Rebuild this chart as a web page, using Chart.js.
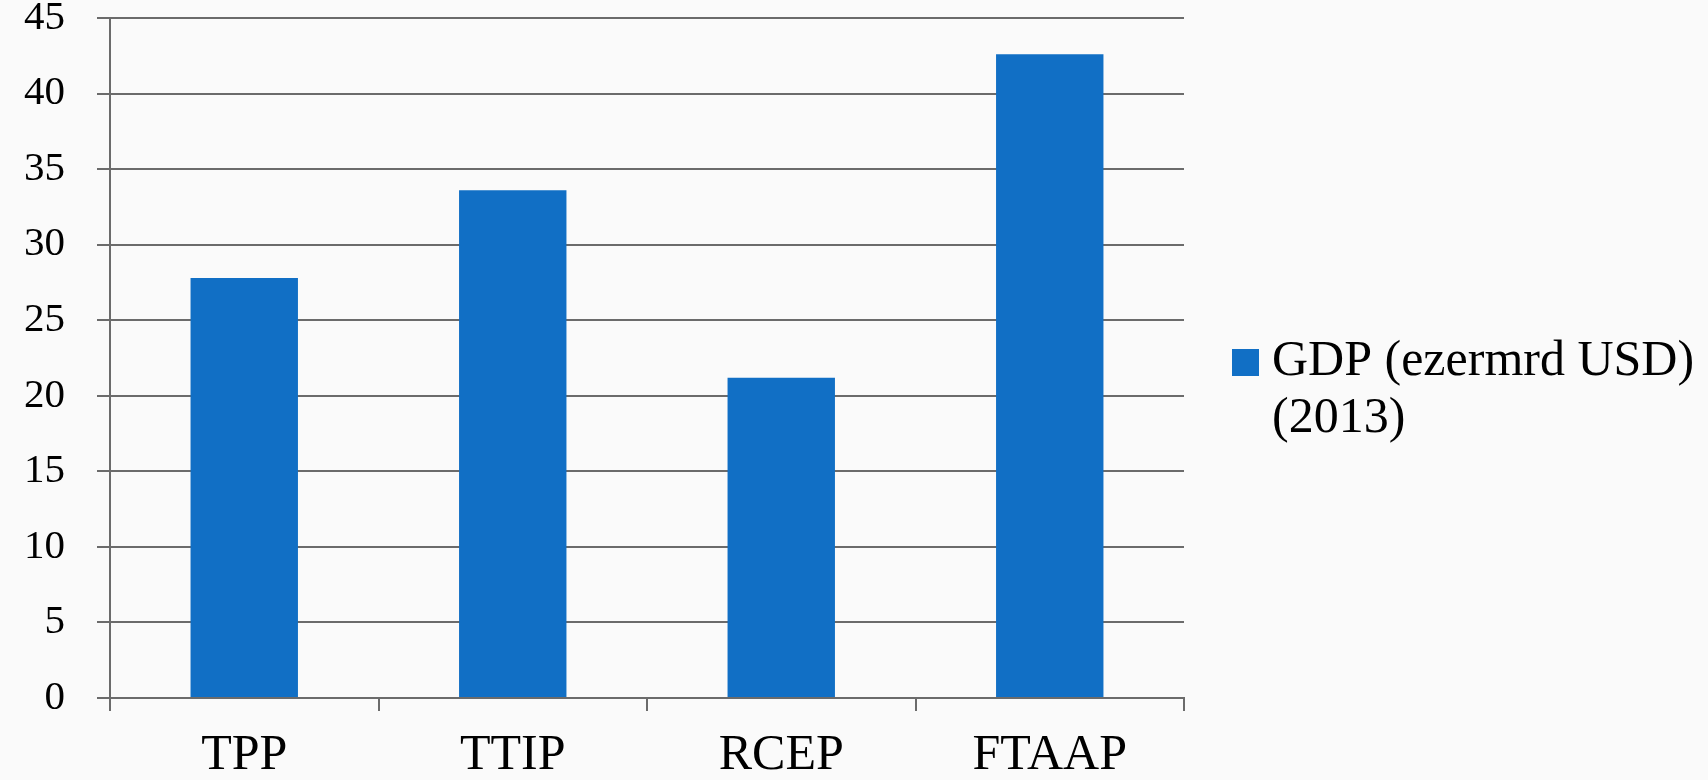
<!DOCTYPE html>
<html>
<head>
<meta charset="utf-8">
<title>GDP (2013)</title>
<script src="https://cdn.jsdelivr.net/npm/chart.js@4/dist/chart.umd.min.js"></script>
<style>
  html, body { margin: 0; padding: 0; background: #fafafa; }
  #wrap { width: 1708px; height: 780px; position: relative; }
</style>
</head>
<body>
<div id="wrap"><canvas id="gdpChart"></canvas></div>
<script>
// Adatok
const categories = ['TPP', 'TTIP', 'RCEP', 'FTAAP'];
const gdpValues = [27.8, 33.6, 21.2, 42.6];
const legendLines = ['GDP (ezermrd USD)', '(2013)'];

const BAR_COLOR = '#116fc5';
const LINE_COLOR = '#6b6b6b';
const FONT = '"Liberation Serif", "Times New Roman", serif';

// Jelmagyarázat kézzel rajzolva (két sorba törve, mint az eredetin)
const sideLegend = {
    id: 'sideLegend',
    afterDraw(chart) {
        const { ctx } = chart;
        const ds = chart.data.datasets[0];
        ctx.save();
        ctx.fillStyle = ds.backgroundColor;
        ctx.fillRect(1232, 349, 27, 27);
        ctx.fillStyle = '#000';
        ctx.font = `50px ${FONT}`;
        ctx.textBaseline = 'alphabetic';
        ctx.textAlign = 'left';
        legendLines.forEach((line, i) => {
            ctx.fillText(line, 1272, 375 + i * 57);
        });
        ctx.restore();
    }
};

const ctx = document.getElementById('gdpChart').getContext('2d');
new Chart(ctx, {
    type: 'bar',
    data: {
        labels: categories,
        datasets: [{
            label: legendLines.join(' '),
            data: gdpValues,
            backgroundColor: BAR_COLOR,
            categoryPercentage: 1,
            barPercentage: 0.4
        }]
    },
    options: {
        responsive: true,
        maintainAspectRatio: false,
        animation: false,
        layout: { padding: { top: 18, right: 524, left: 0, bottom: 0 } },
        plugins: {
            legend: { display: false },
            tooltip: { enabled: false }
        },
        scales: {
            x: {
                grid: {
                    offset: true,
                    drawOnChartArea: false,
                    drawTicks: true,
                    tickLength: 13,
                    color: LINE_COLOR,
                    lineWidth: 2
                },
                border: { display: true, color: LINE_COLOR, width: 2 },
                ticks: {
                    color: '#000',
                    font: { family: FONT, size: 50 },
                    padding: 15,
                    maxRotation: 0
                },
                afterFit: (scale) => {
                    scale.height = 82;
                    scale.paddingLeft = 0;
                    scale.paddingRight = 0;
                }
            },
            y: {
                min: 0,
                max: 45,
                grid: {
                    color: LINE_COLOR,
                    lineWidth: 2,
                    drawTicks: true,
                    tickLength: 13
                },
                border: { display: true, color: LINE_COLOR, width: 2 },
                ticks: {
                    stepSize: 5,
                    color: '#000',
                    font: { family: FONT, size: 41 },
                    padding: 32
                },
                afterFit: (scale) => {
                    scale.width = 110;
                    scale.paddingTop = 0;
                    scale.paddingBottom = 0;
                }
            }
        }
    },
    plugins: [sideLegend]
});
</script>
</body>
</html>
